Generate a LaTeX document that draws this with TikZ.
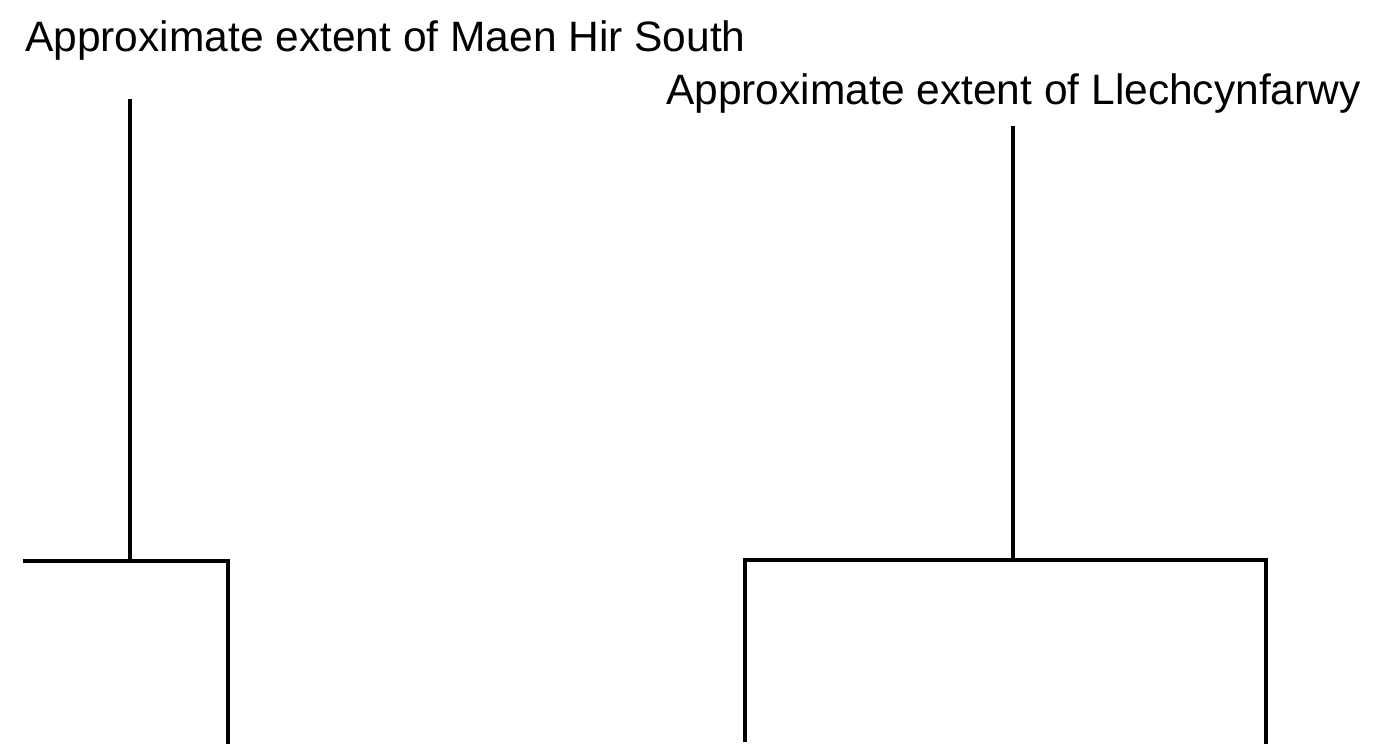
\documentclass[tikz,border=0pt]{standalone}
\usepackage{fontspec}
\setmainfont{Liberation Sans}
\usepackage{tikz}

\begin{document}
\begin{tikzpicture}[x=1pt,y=1pt,yscale=-1,xscale=1,
  bar/.style={line width=3.5pt,line cap=rect},
  lbl/.style={anchor=base west,inner sep=0pt,font=\fontsize{42.5}{50}\selectfont}]
\useasboundingbox (0,0) rectangle (1375,752);

% Text Node
\node[lbl] (maen) at (25,52) {Approximate extent of Maen Hir South};
% Text Node
\node[lbl] (llech) at (666,104) {Approximate extent of Llechcynfarwy};

%Coordinates
\coordinate (mtop) at (130,101);
\coordinate (mjoin) at (130,561);
\coordinate (ml) at (25,561);
\coordinate (mr) at (228,561);
\coordinate (mrb) at (228,742);
\coordinate (ltop) at (1013,128);
\coordinate (ljoin) at (1013,560);
\coordinate (ll) at (745,560);
\coordinate (llb) at (745,740);
\coordinate (lr) at (1266,560);
\coordinate (lrb) at (1266,742);

%Straight Lines
\draw[bar] (mtop) -- (mjoin) ;
%Straight Lines
\draw[bar] (ml) -- (mr) -- (mrb) ;
%Straight Lines
\draw[bar] (ltop) -- (ljoin) ;
%Straight Lines
\draw[bar] (llb) -- (ll) -- (lr) -- (lrb) ;
\end{tikzpicture}
\end{document}
